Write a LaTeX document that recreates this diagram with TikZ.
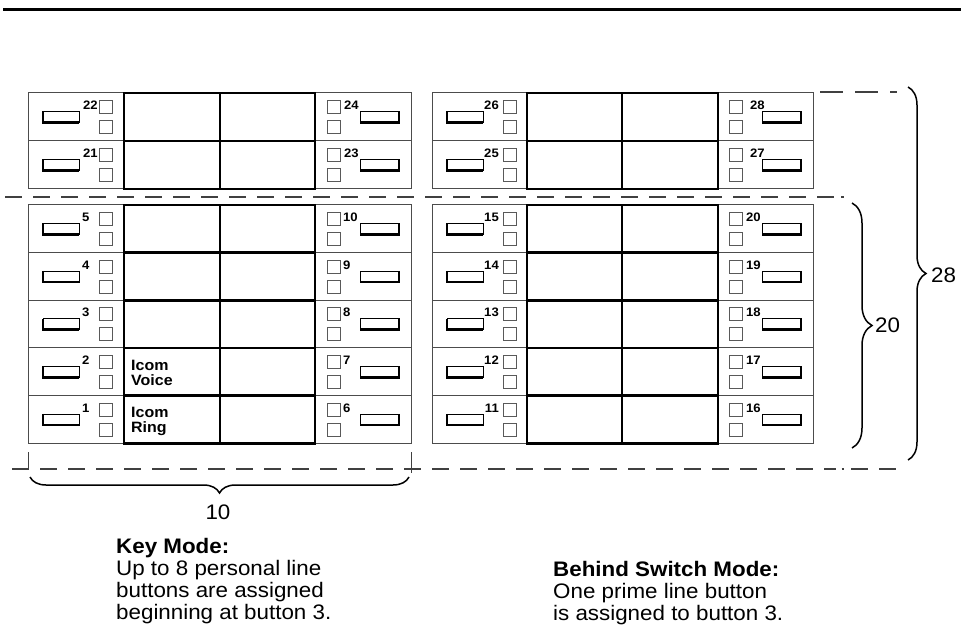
\documentclass[tikz,border=0pt]{standalone}
\usepackage{fontspec}
\setmainfont{Liberation Sans}[FakeStretch=1.065]
\usetikzlibrary{decorations.pathreplacing}

\newcommand\btnrow[9]{%
  % #1 x0, #2 x1, #3 top, #4 height, #5 left number, #6 right number,
  % #7 anchor of left number, #8 x of left number, #9 x of right number
  \draw[rowbox] (#1,#3) rectangle (#2,{#3+#4});
  % left key
  \draw[btnbox] ({#1+15},{#3+#4/2-5.5}) rectangle ({#1+51},{#3+#4/2+5.5});
  \draw[btnedge] ({#1+15},{#3+#4/2-5.5}) -- ({#1+15},{#3+#4/2+5.5}) -- ({#1+51},{#3+#4/2+5.5});
  \draw[ledsq] ({#1+71},{#3+#4/2-16.5}) rectangle ({#1+84},{#3+#4/2-3.5});
  \draw[ledsq] ({#1+71},{#3+#4/2+3.5}) rectangle ({#1+84},{#3+#4/2+16.5});
  \node[num, anchor=#7] (n#5) at (#8,{#3+#4/2-11.5}) {#5};
  % right key
  \draw[ledsq] ({#2-84},{#3+#4/2-16.5}) rectangle ({#2-71},{#3+#4/2-3.5});
  \draw[ledsq] ({#2-84},{#3+#4/2+3.5}) rectangle ({#2-71},{#3+#4/2+16.5});
  \node[num, anchor=west] (n#6) at (#9,{#3+#4/2-11.5}) {#6};
  \draw[btnbox] ({#2-51},{#3+#4/2-5.5}) rectangle ({#2-12},{#3+#4/2+5.5});
  \draw[btnedge] ({#2-12},{#3+#4/2-5.5}) -- ({#2-12},{#3+#4/2+5.5}) -- ({#2-51},{#3+#4/2+5.5});
}

\begin{document}
\begin{tikzpicture}[x=1pt,y=-1pt,
  rowbox/.style={draw=black!70, line width=1pt},
  panelbox/.style={draw=black, line width=2.6pt},
  ledsq/.style={draw=black!65, line width=0.9pt},
  btnbox/.style={draw=black, line width=0.7pt},
  btnedge/.style={draw=black, line width=2.8pt},
  num/.style={font=\bfseries\fontsize{12.3}{13}\selectfont, inner sep=0pt},
  icom/.style={font=\bfseries\fontsize{15}{15}\selectfont, inner sep=0pt, anchor=base west},
  dashline/.style={draw=black!75, line width=1.1pt, dash pattern=on 17pt off 11pt},
  dotline/.style={draw=black!75, line width=1.1pt},
  bracestyle/.style={draw=black, line width=1.5pt, decorate},
  bignum/.style={font=\fontsize{21}{22}\selectfont, inner sep=0pt},
  note/.style={font=\fontsize{21}{22}\selectfont, inner sep=0pt, anchor=base west},
  notehead/.style={font=\bfseries\fontsize{21}{22}\selectfont, inner sep=0pt, anchor=base west}
]
\useasboundingbox (0,0) rectangle (961,628);

% top rule
\draw[line width=3pt] (3,9.3) -- (961,9.3);

% ---------- top module rows ----------
\btnrow{28}{411}{93}{48}{22}{24}{west}{83}{344}
\btnrow{28}{411}{141}{48}{21}{23}{west}{83}{344}
\btnrow{432}{813}{93}{48}{26}{28}{east}{499}{750}
\btnrow{432}{813}{141}{48}{25}{27}{east}{499}{750}

\draw[panelbox] (124,93) rectangle (315,189);
\draw[panelbox] (220,93) -- (220,189);
\draw[panelbox] (124,141) -- (315,141);
\draw[panelbox] (527,93) rectangle (718,189);
\draw[panelbox] (622,93) -- (622,189);
\draw[panelbox] (527,141) -- (718,141);

% ---------- lower module rows ----------
\btnrow{28}{411}{205}{47.66}{5}{10}{west}{82}{343}
\btnrow{28}{411}{252.66}{47.66}{4}{9}{west}{82}{343}
\btnrow{28}{411}{300.32}{47.66}{3}{8}{west}{82}{343}
\btnrow{28}{411}{347.98}{47.66}{2}{7}{west}{82}{343}
\btnrow{28}{411}{395.64}{47.66}{1}{6}{west}{82}{343}
\btnrow{432}{813}{205}{47.66}{15}{20}{east}{499}{746}
\btnrow{432}{813}{252.66}{47.66}{14}{19}{east}{499}{746}
\btnrow{432}{813}{300.32}{47.66}{13}{18}{east}{499}{746}
\btnrow{432}{813}{347.98}{47.66}{12}{17}{east}{499}{746}
\btnrow{432}{813}{395.64}{47.66}{11}{16}{east}{499}{746}

\draw[panelbox] (124,205) rectangle (315,443.3);
\draw[panelbox] (220,205) -- (220,443.3);
\draw[panelbox] (527,205) rectangle (718,443.3);
\draw[panelbox] (622,205) -- (622,443.3);
\foreach \yy in {252.66,300.32,347.98,395.64}{
  \draw[panelbox] (124,\yy) -- (315,\yy);
  \draw[panelbox] (527,\yy) -- (718,\yy);
}

\node[icom] (iv1) at (131,370) {Icom};
\node[icom] (iv2) at (131,385) {Voice};
\node[icom] (ir1) at (131,417) {Icom};
\node[icom] (ir2) at (131,432) {Ring};

% ---------- dashed guide lines ----------
\draw[dashline, dash pattern=on 23pt off 12pt] (820,92) -- (897,92);
\draw[dashline] (5,197) -- (836,197);
\draw[dotline] (841,197) -- (843.5,197);
\draw[dashline] (12,469) -- (836,469);
\draw[dotline] (841.5,469) -- (844,469);
\draw[dashline] (851,469) -- (900,469);
\draw[draw=black!75, line width=0.9pt] (28,452) -- (28,470);
\draw[draw=black!75, line width=0.9pt] (411,452) -- (411,473);

% ---------- braces ----------
\draw[bracestyle, decoration={brace, amplitude=16pt}] (409,477) -- (30,477);
\draw[bracestyle, decoration={brace, amplitude=20pt}] (852,203) -- (852,448);
\draw[bracestyle, decoration={brace, amplitude=18pt}] (908,87) -- (908,460);

\node[bignum] (b10) at (218,512) {10};
\node[bignum, anchor=west] (b20) at (875,325) {20};
\node[bignum, anchor=west] (b28) at (931,275) {28};

% ---------- notes ----------
\node[notehead] (km1) at (116,553) {Key Mode:};
\node[note] (km2) at (116,575) {Up to 8 personal line};
\node[note] (km3) at (116,597) {buttons are assigned};
\node[note] (km4) at (116,619) {beginning at button 3.};

\node[notehead] (bs1) at (553,576) {Behind Switch Mode:};
\node[note] (bs2) at (553,598) {One prime line button};
\node[note] (bs3) at (553,620) {is assigned to button 3.};
\end{tikzpicture}
\end{document}
